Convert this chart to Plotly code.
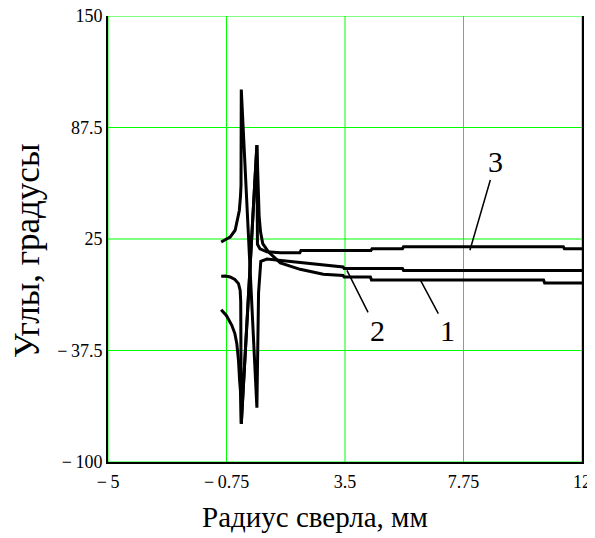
import plotly.graph_objects as go

# ---- data ----
curve1_x = [-0.94, -0.78, -0.62, -0.45, -0.32, -0.26, -0.24, -0.22, 0.34, 0.38, 0.42, 0.47, 0.55,
            0.76, 0.94, 1.18, 1.89, 2.72, 3.43, 3.47, 4.41, 4.45, 10.62, 10.66, 12.0]
curve1_y = [4.1, 4.2, 3.7, 2.3, 0.0, -3.8, -10.0, -78.6, 77.6, 50.0, 38.0, 29.0, 22.4,
            17.7, 14.9, 11.6, 8.0, 5.2, 4.5, 3.7, 3.7, 2.0, 2.0, 0.4, 0.4]

curve2_x = [-0.94, -0.78, -0.62, -0.44, -0.36, -0.29, -0.25, -0.23, -0.22, 0.34, 0.40, 0.44, 0.48,
            0.70, 1.18, 2.20, 3.43, 3.47, 5.56, 5.60, 12.0]
curve2_y = [23.3, 24.5, 26.1, 29.9, 35.5, 41.0, 48.6, 55.0, 108.8, -69.6, -5.0, 7.0, 12.5,
            13.8, 13.0, 11.0, 9.3, 8.4, 8.4, 7.3, 7.3]

curve3_x = [-0.94, -0.75, -0.56, -0.45, -0.38, -0.32, -0.28, -0.25, -0.22, 0.34, 0.36, 0.45, 0.70,
            1.18, 1.88, 1.92, 4.43, 4.47, 5.56, 5.60, 11.33, 11.37, 12.0]
curve3_y = [-14.6, -18.0, -23.4, -28.0, -33.7, -43.0, -54.3, -60.0, -78.6, 77.6, 22.0, 19.5, 17.8,
            17.3, 17.3, 18.5, 18.5, 19.6, 19.6, 20.7, 20.7, 19.6, 19.6]

x_ticks = [-5, -0.75, 3.5, 7.75, 12]
x_ticklabels = ["\u2212\u20095", "\u2212\u20090.75", "3.5", "7.75", "12"]
y_ticks = [-100, -37.5, 25, 87.5, 150]
y_ticklabels = ["\u2212\u2009100", "\u2212\u200937.5", "25", "87.5", "150"]

# curve labels: text, text position (x, y), pointer tip (x, y)
label_text = ["1", "2", "3"]
label_pos_x = [7.17, 4.65, 8.90]
label_pos_y = [-26.2, -26.2, 68.2]
label_tip_x = [6.21, 3.57, 7.98]
label_tip_y = [1.8, 7.4, 18.7]

x_title = "Радиус сверла, мм"
y_title = "Углы, градусы"

FONT = "Liberation Serif, Times New Roman, serif"
GRID = "#00ff00"

fig = go.Figure()
for xs, ys in [(curve1_x, curve1_y), (curve2_x, curve2_y), (curve3_x, curve3_y)]:
    fig.add_trace(go.Scatter(x=xs, y=ys, mode="lines",
                             line=dict(color="black", width=3),
                             showlegend=False, hoverinfo="skip"))

# grid lines drawn as shapes at the tick values
shapes = []
for v in x_ticks:
    shapes.append(dict(type="line", xref="x", yref="paper", x0=v, x1=v, y0=0, y1=1,
                       line=dict(color=GRID, width=1), layer="below"))
for v in y_ticks:
    shapes.append(dict(type="line", xref="paper", yref="y", x0=0, x1=1, y0=v, y1=v,
                       line=dict(color=GRID, width=1), layer="below"))

annotations = []
for t, px, py, tx, ty in zip(label_text, label_pos_x, label_pos_y, label_tip_x, label_tip_y):
    annotations.append(dict(x=tx, y=ty, xref="x", yref="y",
                            ax=px, ay=py, axref="x", ayref="y",
                            text=t, showarrow=True, arrowhead=0, arrowwidth=1.5,
                            arrowcolor="black",
                            font=dict(family=FONT, size=30, color="black")))

annotations.append(dict(x=0.437, y=-0.123, xref="paper", yref="paper", text=x_title,
                        xanchor="center", yanchor="middle",
                        showarrow=False, font=dict(family=FONT, size=29, color="black")))
annotations.append(dict(x=-0.171, y=0.475, xref="paper", yref="paper", text=y_title,
                        xanchor="center", yanchor="middle",
                        showarrow=False, textangle=-90,
                        font=dict(family=FONT, size=35, color="black")))

# the page body has an 8px margin, so the figure is made 8px smaller and margins reduced
fig.update_layout(
    width=587, height=530,
    margin=dict(l=100, r=13, t=8, b=76, autoexpand=False),
    paper_bgcolor="white", plot_bgcolor="white",
    font=dict(family=FONT, size=18, color="black"),
    annotations=annotations,
    shapes=shapes,
    xaxis=dict(range=[-5, 12], tickmode="array", tickvals=x_ticks, ticktext=x_ticklabels,
               showgrid=False, zeroline=False,
               showline=True, linecolor="black", linewidth=2, mirror=False,
               ticks="", ticklabelstandoff=2,
               ticklabeloverflow="allow",
               tickfont=dict(family=FONT, size=18, color="black")),
    yaxis=dict(range=[-100, 150], tickmode="array", tickvals=y_ticks, ticktext=y_ticklabels,
               showgrid=False, zeroline=False,
               showline=True, linecolor="black", linewidth=2, mirror=True,
               ticks="", ticklabelstandoff=0,
               ticklabeloverflow="allow",
               tickfont=dict(family=FONT, size=18, color="black")),
)

fig.write_html("out.html")
